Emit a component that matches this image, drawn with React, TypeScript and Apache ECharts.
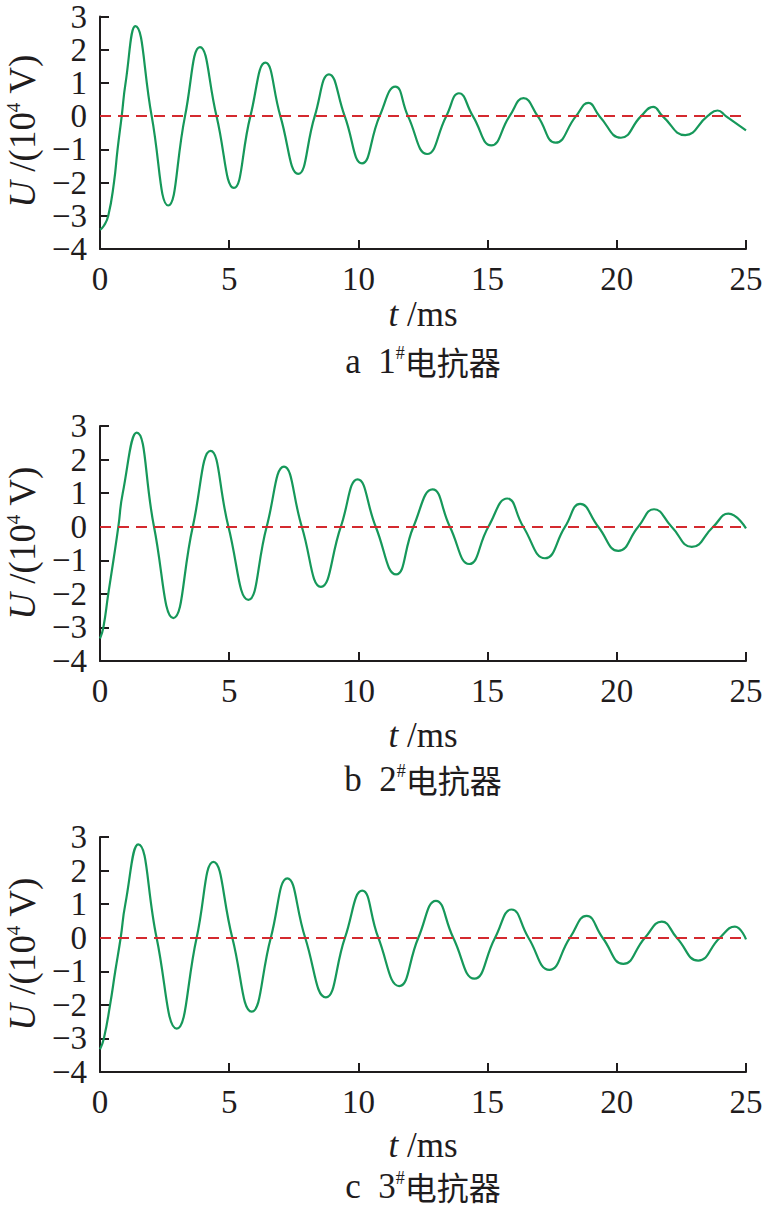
import React, { useEffect, useRef } from "react";
import * as echarts from "echarts";

// ---- Data (t in ms, U in 10^4 V) ----
const t1 = [0, 0.15, 0.32, 0.54, 0.68, 0.84, 0.99, 1.37, 2.0, 2.64, 3.29, 3.87, 4.51, 5.18, 5.82, 6.4, 6.98, 7.67, 8.31, 8.86, 9.47, 10.14, 10.82, 11.43, 11.92, 12.66, 13.4, 13.89, 14.43, 15.14, 15.85, 16.39, 16.94, 17.63, 18.42, 18.9, 19.33, 20.16, 20.94, 21.41, 21.77, 22.65, 23.51, 23.9, 24.22, 25];
const u1 = [-3.42, -3.3, -3.0, -2.0, -1.0, 0, 1, 2.71, 0, -2.69, 0, 2.08, 0, -2.16, 0, 1.61, 0, -1.74, 0, 1.26, 0, -1.42, 0, 0.89, 0, -1.14, 0, 0.69, 0, -0.88, 0, 0.54, 0, -0.8, 0, 0.4, 0, -0.65, 0, 0.28, 0, -0.57, 0, 0.17, 0, -0.43];

const t2 = [0, 0.13, 0.32, 0.52, 0.71, 0.88, 1.42, 2.09, 2.84, 3.59, 4.28, 4.97, 5.74, 6.45, 7.12, 7.81, 8.55, 9.32, 9.97, 10.67, 11.46, 12.13, 12.87, 13.54, 14.29, 15.03, 15.76, 16.38, 17.22, 18.0, 18.58, 19.28, 20.06, 20.83, 21.44, 22.12, 22.9, 23.73, 24.32, 25];
const u2 = [-3.33, -3, -2, -1, 0, 1, 2.8, 0, -2.72, 0, 2.26, 0, -2.18, 0, 1.79, 0, -1.79, 0, 1.41, 0, -1.42, 0, 1.11, 0, -1.11, 0, 0.84, 0, -0.94, 0, 0.68, 0, -0.72, 0, 0.52, 0, -0.6, 0, 0.39, -0.05];

const t3 = [0, 0.15, 0.39, 0.59, 0.8, 0.98, 1.48, 2.19, 2.97, 3.74, 4.39, 5.12, 5.87, 6.61, 7.25, 7.94, 8.74, 9.48, 10.15, 10.77, 11.58, 12.32, 13.0, 13.67, 14.49, 15.29, 15.93, 16.58, 17.39, 18.19, 18.83, 19.45, 20.25, 21.09, 21.74, 22.32, 23.15, 23.99, 24.57, 25];
const u3 = [-3.32, -3, -2, -1, 0, 1, 2.78, 0, -2.71, 0, 2.26, 0, -2.2, 0, 1.77, 0, -1.78, 0, 1.4, 0, -1.44, 0, 1.1, 0, -1.22, 0, 0.84, 0, -0.96, 0, 0.65, 0, -0.78, 0, 0.48, 0, -0.68, 0, 0.33, -0.05];

const xTicks = { min: 0, max: 25, interval: 5 };
const yTicks = { min: -4, max: 3, interval: 1 };
const captions = ["a", "b", "c"];
const reactorIds = ["1", "2", "3"];
const reactorName = "电抗器";
const xName = "/ms";

const SERIF = "'Liberation Serif', 'Times New Roman', serif";
const CJK = "'Noto Sans CJK SC', sans-serif";
const INK = "#1f1c1d";
const GREEN = "#16985a";
const RED = "#d42a2f";

const grids = [
  { top: 14, yName: 131, xTitle: 314, cap: 361 },
  { top: 426, yName: 543, xTitle: 735, cap: 779 },
  { top: 837, yName: 954, xTitle: 1145, cap: 1186 },
];
const GRID_LEFT = 100;
const GRID_W = 646;
const GRID_H = 235;

function fmtY(v: number) {
  return v < 0 ? "\u2212" + Math.abs(v) : String(v);
}

export default function App() {
  const ref = useRef<HTMLDivElement>(null);
  useEffect(() => {
    document.body.style.margin = "0";
    if (!ref.current) return;
    const chart = echarts.init(ref.current, undefined, { renderer: "svg" });
    const datasets = [
      t1.map((t, i) => [t, u1[i]]),
      t2.map((t, i) => [t, u2[i]]),
      t3.map((t, i) => [t, u3[i]]),
    ];
    const axisLine = { show: true, onZero: false, lineStyle: { color: INK, width: 2 } };
    const axisTick = { show: true, inside: true, length: 9, lineStyle: { color: INK, width: 2 } };
    const labelStyle = {
      fontFamily: SERIF,
      fontSize: 33,
      lineHeight: 28,
      color: INK,
      showMinLabel: true,
      showMaxLabel: true,
      hideOverlap: false,
    };

    const graphic: any[] = [];
    grids.forEach((g, i) => {
      graphic.push({
        type: "text",
        x: 22,
        y: g.yName,
        rotation: Math.PI / 2,
        style: {
          text: "{i|U} /(10{s|4} V)",
          font: `37px ${SERIF}`,
          fill: INK,
          align: "center",
          verticalAlign: "middle",
          rich: {
            i: { fontStyle: "italic", fontFamily: SERIF, fontSize: 37 },
            s: { fontFamily: SERIF, fontSize: 19, verticalAlign: "top" },
          },
        },
      });
      graphic.push({
        type: "text",
        x: GRID_LEFT + GRID_W / 2,
        y: g.xTitle,
        style: {
          text: "{i|t} " + xName,
          font: `35px ${SERIF}`,
          lineHeight: 32,
          fill: INK,
          align: "center",
          verticalAlign: "middle",
          rich: { i: { fontStyle: "italic", fontFamily: SERIF, fontSize: 35, lineHeight: 32 } },
        },
      });
      graphic.push({
        type: "text",
        x: GRID_LEFT + GRID_W / 2,
        y: g.cap,
        style: {
          text: `${captions[i]}  ${reactorIds[i]}{s|#}{c|${reactorName}}`,
          font: `35px ${SERIF}`,
          lineHeight: 34,
          fill: INK,
          align: "center",
          verticalAlign: "middle",
          rich: {
            s: { fontFamily: SERIF, fontSize: 18, verticalAlign: "top", lineHeight: 34 },
            c: { fontFamily: CJK, fontSize: 32, lineHeight: 34 },
          },
        },
      });
    });

    chart.setOption({
      animation: false,
      backgroundColor: "#ffffff",
      grid: grids.map((g) => ({ left: GRID_LEFT, top: g.top, width: GRID_W, height: GRID_H })),
      xAxis: grids.map((_, i) => ({
        type: "value",
        gridIndex: i,
        ...xTicks,
        axisLine,
        axisTick,
        splitLine: { show: false },
        axisLabel: { ...labelStyle, margin: 16 },
      })),
      yAxis: grids.map((_, i) => ({
        type: "value",
        gridIndex: i,
        ...yTicks,
        axisLine,
        axisTick,
        splitLine: { show: false },
        axisLabel: { ...labelStyle, margin: 13, formatter: fmtY },
      })),
      series: datasets.map((d, i) => ({
        type: "line",
        xAxisIndex: i,
        yAxisIndex: i,
        data: d,
        smooth: 0.5,
        showSymbol: false,
        lineStyle: { color: GREEN, width: 2.2 },
        markLine: {
          silent: true,
          symbol: "none",
          label: { show: false },
          lineStyle: { color: RED, width: 2, type: [11, 7] },
          data: [{ yAxis: 0 }],
        },
      })),
      graphic,
    });
    return () => chart.dispose();
  }, []);
  return <div ref={ref} style={{ width: 767, height: 1209 }} />;
}
